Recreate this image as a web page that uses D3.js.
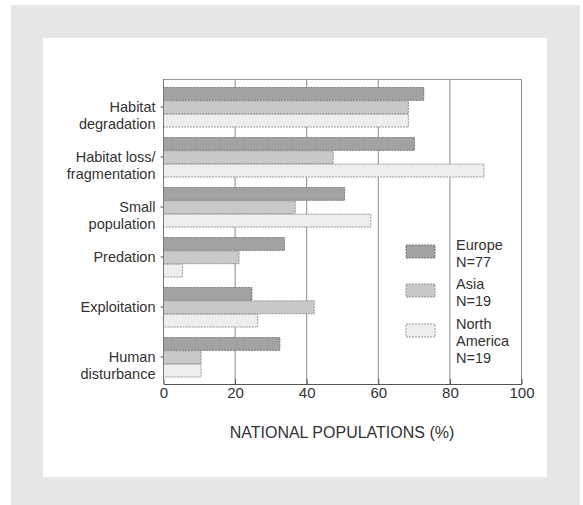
<!DOCTYPE html>
<html><head><meta charset="utf-8">
<script src="https://cdn.jsdelivr.net/npm/d3@7"></script>
<style>body{margin:0;background:#fff}svg{display:block}</style>
</head><body>
<svg id="c" width="583" height="505"></svg>
<script>
const categories = [["Habitat","degradation"],["Habitat loss/","fragmentation"],["Small","population"],["Predation"],["Exploitation"],["Human","disturbance"]];
const seriesNames = ["Europe","Asia","North America"];
const legendLabels = [["Europe","N=77"],["Asia","N=19"],["North","America","N=19"]];
const europe = [72.7, 70.1, 50.6, 33.8, 24.7, 32.5];
const asia = [68.4, 47.4, 36.8, 21.1, 42.1, 10.5];
const northAmerica = [68.4, 89.5, 57.9, 5.3, 26.3, 10.5];
const xTicks = [0, 20, 40, 60, 80, 100];
const xTitle = "NATIONAL POPULATIONS (%)";

(function(){
const series = [europe, asia, northAmerica];
const fills = ["#a2a2a2", "#c9c9c9", "#eeeeee"];
const strokes = ["#6e6e6e", "#8a8a8a", "#8f8f8f"];

const svg = d3.select("#c");
svg.append("rect").attr("x",11).attr("y",5).attr("width",569).attr("height",500).attr("fill","#e7e7e9");
svg.append("rect").attr("x",43).attr("y",38).attr("width",504).attr("height",439).attr("fill","#ffffff");

const x = d3.scaleLinear().domain([0,100]).range([163.5,521.5]);
const plotTop = 79, plotBottom = 384;
const catIdx = d3.range(categories.length);
const y = d3.scaleBand().domain(catIdx).range([82,382]).paddingInner(0.2).paddingOuter(0.1);
const y1 = d3.scaleBand().domain(d3.range(3)).range([0, y.bandwidth()]);

const font = "Liberation Sans, Arial, Helvetica, sans-serif";

// grid lines
svg.append("g").selectAll("line").data(xTicks.filter(d=>d>0)).join("line")
  .attr("x1",d=>x(d)).attr("x2",d=>x(d)).attr("y1",plotTop).attr("y2",plotBottom)
  .attr("stroke","#8a8a8a").attr("stroke-width",1);
svg.append("line").attr("x1",x(0)).attr("x2",x(100)).attr("y1",plotTop+0.5).attr("y2",plotTop+0.5)
  .attr("stroke","#9a9a9a").attr("stroke-width",1);

// bars
catIdx.forEach(i=>{
  series.forEach((s,j)=>{
    svg.append("rect")
      .attr("x", x(0)).attr("y", y(i)+y1(j)+0.5)
      .attr("width", x(s[i])-x(0)).attr("height", y1.bandwidth()-0.5)
      .attr("fill", fills[j]).attr("stroke", strokes[j]).attr("stroke-width",0.9)
      .attr("stroke-dasharray","2,1");
  });
});

// axes
const xAxis = d3.axisBottom(x).tickValues(xTicks).tickSize(5).tickSizeOuter(0).tickFormat(d3.format("d"));
const gx = svg.append("g").attr("transform",`translate(0,${plotBottom})`).call(xAxis);
gx.select(".domain").attr("stroke","#555");
gx.selectAll(".tick line").attr("stroke","#555").attr("transform","translate(0,-5)");
gx.selectAll("text").attr("font-family",font).attr("font-size",15).attr("fill","#333").attr("dy","0.45em").attr("y",7);

svg.append("line").attr("x1",x(0)).attr("x2",x(0)).attr("y1",plotTop).attr("y2",plotBottom).attr("stroke","#777");

// y labels
catIdx.forEach(i=>{
  const cy = y(i)+y.bandwidth()/2;
  svg.append("line").attr("x1",x(0)-3).attr("x2",x(0)).attr("y1",cy).attr("y2",cy).attr("stroke","#555");
  const lines = categories[i];
  const t = svg.append("text").attr("text-anchor","end").attr("font-family",font).attr("font-size",14.5).attr("fill","#333");
  const lh = 17;
  const y0 = cy+5;
  lines.forEach((l,k)=>{
    t.append("tspan").attr("x",x(0)-8).attr("y", y0 + k*lh).text(l);
  });
});

// axis title
svg.append("text").attr("x",342).attr("y",438).attr("text-anchor","middle")
  .attr("font-family",font).attr("font-size",16).attr("fill","#333").text(xTitle);

// legend
const legY = [245, 284, 324];
seriesNames.forEach((n,j)=>{
  svg.append("rect").attr("x",406).attr("y",legY[j]).attr("width",29).attr("height",13)
    .attr("fill",fills[j]).attr("stroke",strokes[j]).attr("stroke-width",0.9).attr("stroke-dasharray","2,1");
  const t = svg.append("text").attr("font-family",font).attr("font-size",14.5).attr("fill","#333");
  legendLabels[j].forEach((l,k)=>{
    t.append("tspan").attr("x",456).attr("y",legY[j]+5+k*17).text(l);
  });
});
})();
</script>
</body></html>
